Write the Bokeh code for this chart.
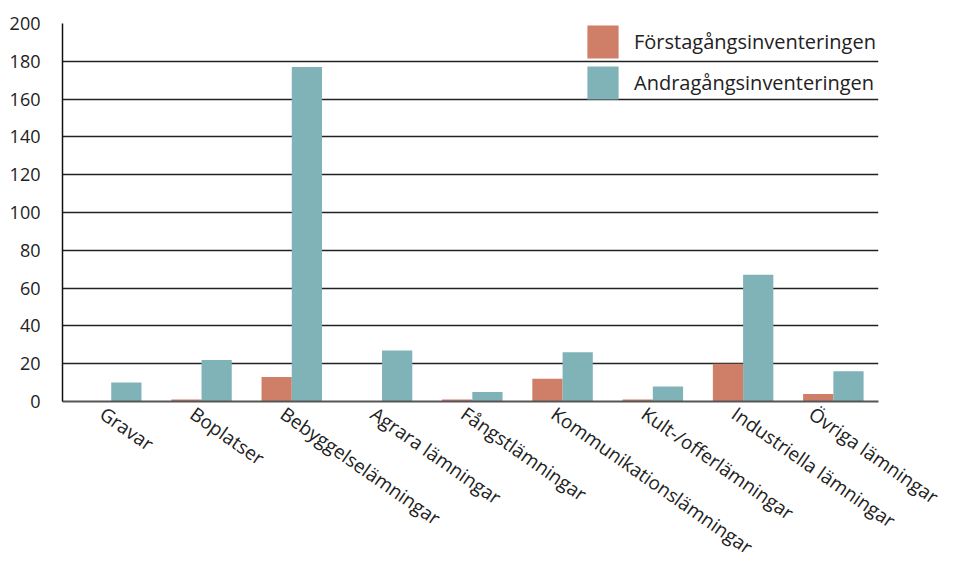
from bokeh.plotting import figure
from bokeh.models import Range1d, FixedTicker, ColumnDataSource
from bokeh.embed import file_html
from bokeh.resources import INLINE
import math

categories = ["Gravar", "Boplatser", "Bebyggelselämningar", "Agrara lämningar",
              "Fångstlämningar", "Kommunikationslämningar", "Kult-/offerlämningar",
              "Industriella lämningar", "Övriga lämningar"]
forsta = [0, 1, 13, 0, 1, 12, 1, 20, 4]
andra = [10, 22, 177, 27, 5, 26, 8, 67, 16]
y_ticks = [0, 20, 40, 60, 80, 100, 120, 140, 160, 180, 200]
series_names = ["Förstagångsinventeringen", "Andragångsinventeringen"]

RED = "#CF7E68"
TEAL = "#7FB3B8"
FONT = "Open Sans"

idx = list(range(len(categories)))
bw = 0.335
src1 = ColumnDataSource(dict(x=[i - bw / 2 for i in idx], top=forsta))
src2 = ColumnDataSource(dict(x=[i + bw / 2 for i in idx], top=andra))

p = figure(width=943, height=573, output_backend="svg", toolbar_location=None,
           x_range=Range1d(-0.54, 8.5), y_range=Range1d(0, 200),
           min_border_left=62, min_border_right=65, min_border_top=23,
           min_border_bottom=150)
p.outline_line_color = None

p.vbar(x="x", top="top", width=bw, bottom=0, source=src1, fill_color=RED,
       line_color=None, legend_label=series_names[0])
p.vbar(x="x", top="top", width=bw, bottom=0, source=src2, fill_color=TEAL,
       line_color=None, legend_label=series_names[1])

p.xgrid.grid_line_color = None
p.ygrid.ticker = FixedTicker(ticks=y_ticks)
p.ygrid.grid_line_color = "#222222"
p.ygrid.grid_line_width = 1.5

p.yaxis.ticker = FixedTicker(ticks=y_ticks)
p.yaxis.axis_line_color = "#111111"
p.yaxis.axis_line_width = 1.5
p.yaxis.major_tick_line_color = None
p.yaxis.minor_tick_line_color = None
p.yaxis.major_label_standoff = 16
p.yaxis.major_label_text_font = FONT
p.yaxis.major_label_text_font_size = "18px"
p.yaxis.major_label_text_color = "#222222"

label_pos = [i - 0.1 for i in idx]
p.xaxis.ticker = FixedTicker(ticks=label_pos)
p.xaxis.major_label_overrides = {t: c for t, c in zip(label_pos, categories)}
p.xaxis.major_label_orientation = -math.radians(35)
p.xaxis.axis_line_color = "#555555"
p.xaxis.axis_line_width = 2
p.xaxis.major_tick_line_color = None
p.xaxis.minor_tick_line_color = None
p.xaxis.major_tick_out = 0
p.xaxis.major_tick_in = 0
p.xaxis.major_label_standoff = 10
p.xaxis.major_label_text_font = FONT
p.xaxis.major_label_text_font_size = "19px"
p.xaxis.major_label_text_color = "#222222"

lg = p.legend[0]
lg.location = (521, 298)
lg.margin = 0
lg.padding = 0
lg.spacing = 0
lg.glyph_width = 39
lg.glyph_height = 41
lg.label_standoff = 12
lg.label_text_font = FONT
lg.label_text_font_size = "20px"
lg.label_text_color = "#222222"
lg.background_fill_alpha = 0
lg.border_line_color = None

open("out.html", "w").write(file_html(p, INLINE))
